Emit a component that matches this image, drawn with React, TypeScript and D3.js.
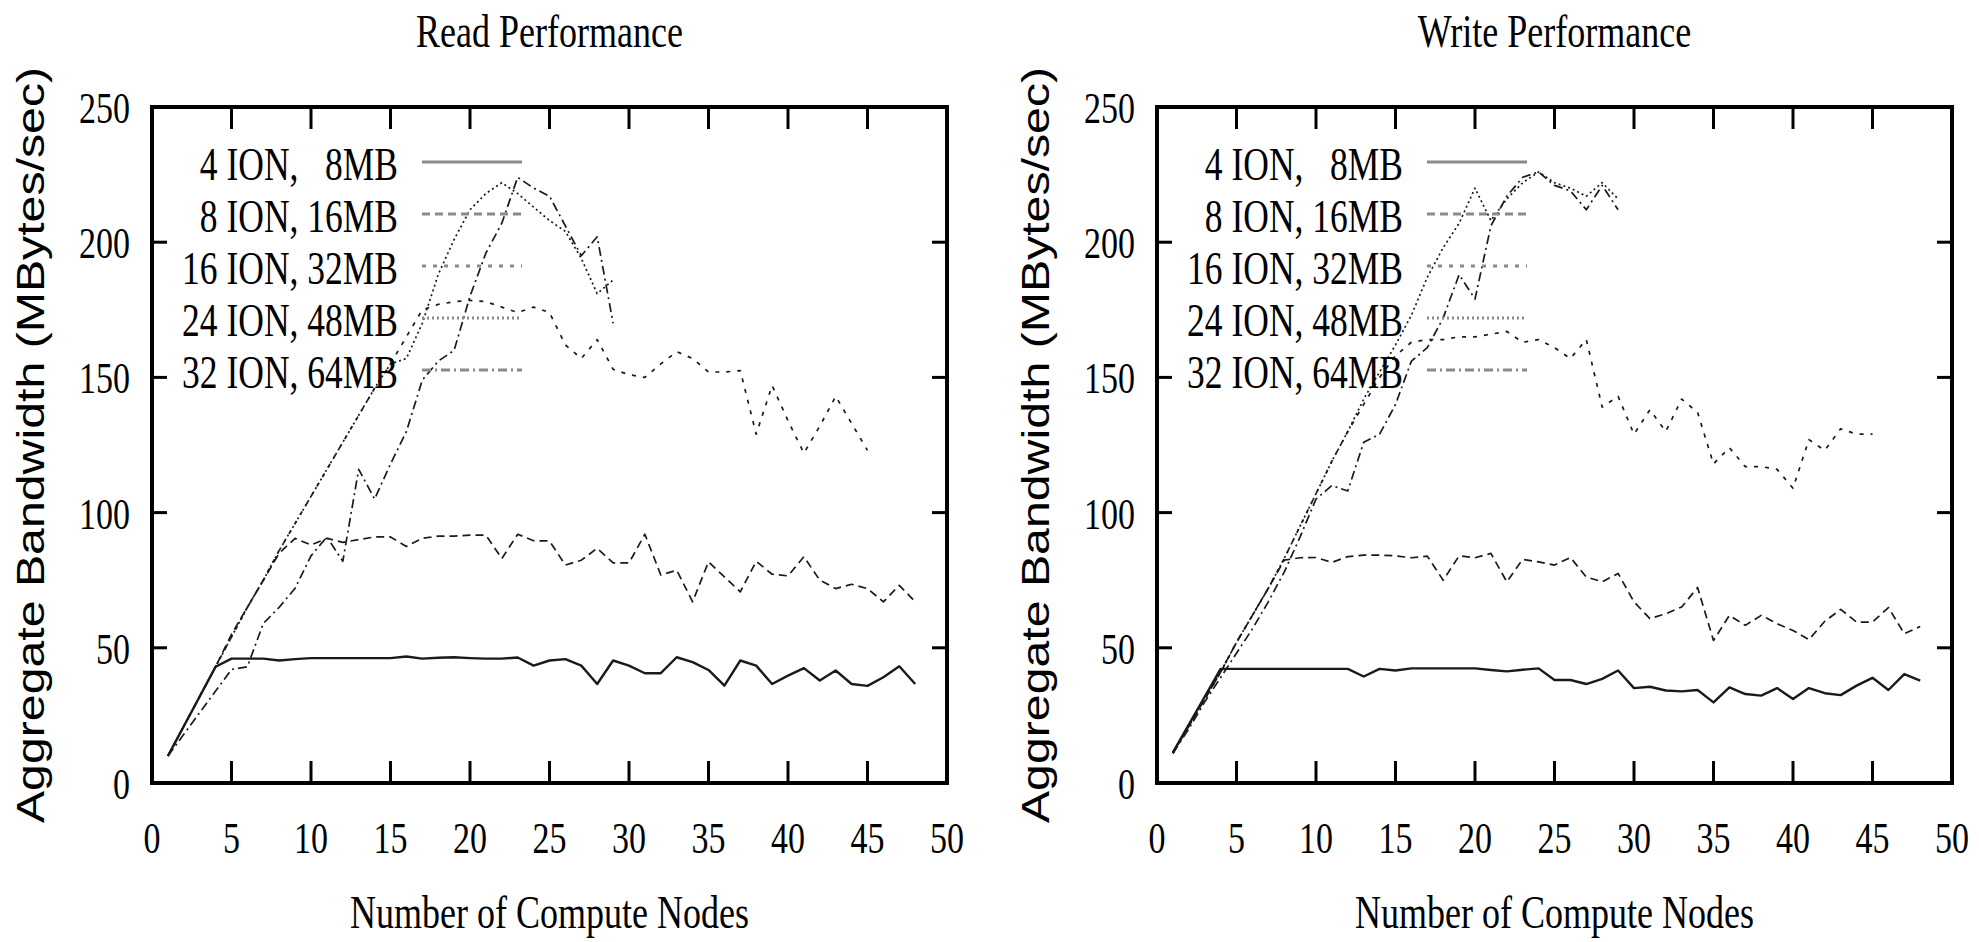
import * as d3 from "d3";

// x values (number of compute nodes)
const nodeCounts = [
  1, 2, 3, 4, 5, 6, 7, 8, 9, 10, 11, 12, 13, 14, 15, 16, 17, 18, 19, 20, 21, 22, 23, 24,
  25, 26, 27, 28, 29, 30, 31, 32, 33, 34, 35, 36, 37, 38, 39, 40, 41, 42, 43, 44, 45, 46, 47, 48,
];

const seriesNames = ["4 ION,   8MB", "8 ION, 16MB", "16 ION, 32MB", "24 ION, 48MB", "32 ION, 64MB"];

// Read performance (MBytes/sec)
const read4 = [10, 21, 32, 43, 46, 46, 46, 45.3, 45.8, 46.2, 46.2, 46.2, 46.2, 46.2, 46.2, 46.8, 46, 46.3, 46.5, 46.2, 46, 46, 46.4, 43.4, 45.3, 45.8, 43.4, 36.6, 45.3, 43.4, 40.6, 40.6, 46.5, 44.7, 41.8, 36, 45.3, 43.4, 36.6, 39.7, 42.5, 37.9, 41.6, 36.6, 35.9, 39.1, 43.2, 36.6];
const read8 = [10, 21, 32, 43, 55, 65, 75, 85, 90.5, 88, 90.5, 89, 90, 91, 91, 87.5, 90.5, 91.3, 91.3, 91.7, 91.7, 83, 92, 89.6, 89.5, 80.6, 82.4, 86.8, 81.4, 81.4, 92, 76.9, 78.7, 67, 81.8, 76.2, 70.7, 82, 77.2, 76.6, 83.7, 75, 71.9, 73.5, 71.9, 67, 73.1, 67];
const read16 = [10, 21, 32, 43, 54, 65, 75, 86, 96, 106, 116, 126, 136, 146, 155, 165, 175, 177, 178, 178.5, 178, 176, 174, 176, 174, 162, 157, 164, 153, 151, 150, 155, 159.5, 157, 152, 152, 152.5, 129, 147, 134, 122, 132, 143, 133, 123];
const read24 = [10, 21, 32, 43, 54, 65, 75, 86, 96, 106, 116, 126, 136, 146, 155, 157, 170, 188, 201, 212, 218, 222, 218, 213, 208, 204, 194, 181, 186];
const read32 = [10, 18, 26, 34, 42, 43, 59, 65, 72, 84, 91, 82, 116, 105, 118, 130, 149, 156, 160, 180, 196, 207, 224, 220, 217, 206, 195, 202, 170];

// Write performance (MBytes/sec)
const write4 = [11.3, 21.6, 31.9, 42.2, 42.2, 42.2, 42.2, 42.2, 42.2, 42.2, 42.2, 42.2, 39.4, 42.2, 41.6, 42.4, 42.4, 42.4, 42.4, 42.4, 41.8, 41.3, 41.9, 42.4, 38.1, 38.1, 36.6, 38.5, 41.6, 35.1, 35.6, 34.2, 33.9, 34.4, 29.8, 35.4, 32.9, 32.3, 35.1, 31.1, 35.1, 33.2, 32.5, 36, 38.9, 34.4, 40.3, 37.9];
const write8 = [11, 21, 31, 41, 52, 62, 72, 82.4, 83.3, 83.4, 81.6, 83.7, 84.3, 84.3, 84, 83.3, 83.9, 75, 84, 83.3, 84.9, 74.4, 82.7, 81.8, 80.6, 83.4, 76.2, 74.4, 77.5, 67, 60.8, 62.6, 65.1, 72.3, 52.7, 62, 58.3, 62, 58.9, 56.4, 53, 59.8, 64.2, 59.5, 59.5, 64.9, 55.2, 57.9];
const write16 = [11, 21, 31, 41, 52, 62, 72, 83, 95, 107, 119, 130, 140, 150, 158, 163, 164, 164, 165, 165, 166, 167, 163, 164, 161, 157, 164, 139, 143, 129, 138, 130, 142, 137, 118, 124, 117, 117, 116, 109, 127, 123, 131, 129, 129];
const write24 = [11, 21, 31, 41, 52, 62, 72, 83, 95, 107, 119, 130, 142, 152, 162, 173, 187, 198, 207, 220, 208, 216, 222, 226, 222, 220, 217, 222, 216];
const write32 = [11, 20, 30, 39, 48, 57, 67, 78, 91, 105, 110, 108, 126, 129, 140, 156, 161, 172, 188, 179, 206, 217, 224, 226, 221, 219, 212, 221, 212];

const xTicks = [0, 5, 10, 15, 20, 25, 30, 35, 40, 45, 50];
const yTicks = [0, 50, 100, 150, 200, 250];

// line styles, one per series
const dashes = ["", "8,5", "4,7", "2,3", "9,4,2,4"];

const TOP = 107;
const BOTTOM = 783;
const PLOT_W = 795;
const STRETCH = 1.3; // text in the source is taller than it is wide
const serif = "'Liberation Serif', 'Times New Roman', serif";

function Panel({ left, title, series }: { left: number; title: string; series: number[][] }) {
  const right = left + PLOT_W;
  const x = d3.scaleLinear().domain([0, 50]).range([left, right]);
  const y = d3.scaleLinear().domain([0, 250]).range([BOTTOM, TOP]);
  const line = d3
    .line<number>()
    .x((_, i) => x(nodeCounts[i]))
    .y((d) => y(d));
  const cx = (left + right) / 2;

  return (
    <g>
      <text
        transform={`translate(${cx},47) scale(1,${STRETCH})`}
        textAnchor="middle"
        fontFamily={serif}
        fontSize={36}
      >
        {title}
      </text>

      {/* data lines */}
      {series.map((s, i) => (
        <path
          key={i}
          d={line(s) as string}
          fill="none"
          stroke="#1a1a1a"
          strokeWidth={i === 0 ? 2.4 : 1.7}
          strokeDasharray={dashes[i] || undefined}
          strokeLinejoin="round"
        />
      ))}

      {/* legend */}
      {seriesNames.map((name, i) => {
        const base = 180 + 52 * i;
        return (
          <g key={name}>
            <text
              transform={`translate(${left + 246},${base}) scale(1,${STRETCH})`}
              textAnchor="end"
              fontFamily={serif}
              fontSize={35.5}
              xmlSpace="preserve"
              style={{ whiteSpace: "pre" }}
            >
              {name}
            </text>
            <line
              x1={left + 270}
              x2={left + 370}
              y1={base - 18}
              y2={base - 18}
              stroke="#8a8a8a"
              strokeWidth={3}
              strokeDasharray={dashes[i] || undefined}
            />
          </g>
        );
      })}

      {/* frame and inward ticks */}
      <rect x={left} y={TOP} width={PLOT_W} height={BOTTOM - TOP} fill="none" stroke="#000" strokeWidth={4} />
      {xTicks.slice(1, -1).map((t) => (
        <g key={"x" + t}>
          <line x1={x(t)} x2={x(t)} y1={BOTTOM} y2={BOTTOM - 22} stroke="#000" strokeWidth={3} />
          <line x1={x(t)} x2={x(t)} y1={TOP} y2={TOP + 22} stroke="#000" strokeWidth={3} />
        </g>
      ))}
      {yTicks.slice(1, -1).map((t) => (
        <g key={"y" + t}>
          <line x1={left} x2={left + 15} y1={y(t)} y2={y(t)} stroke="#000" strokeWidth={3} />
          <line x1={right} x2={right - 15} y1={y(t)} y2={y(t)} stroke="#000" strokeWidth={3} />
        </g>
      ))}

      {/* tick labels */}
      {xTicks.map((t) => (
        <text
          key={"xl" + t}
          transform={`translate(${x(t)},853) scale(1,${STRETCH})`}
          textAnchor="middle"
          fontFamily={serif}
          fontSize={34}
        >
          {t}
        </text>
      ))}
      {yTicks.map((t) => (
        <text
          key={"yl" + t}
          transform={`translate(${left - 22},${y(t) + 16}) scale(1,${STRETCH})`}
          textAnchor="end"
          fontFamily={serif}
          fontSize={34}
        >
          {t}
        </text>
      ))}

      {/* axis titles */}
      <text
        transform={`translate(${cx},928) scale(1,${STRETCH})`}
        textAnchor="middle"
        fontFamily={serif}
        fontSize={36}
      >
        Number of Compute Nodes
      </text>
      <text
        transform={`translate(${left - 108},${(TOP + BOTTOM) / 2}) rotate(-90) scale(1.27,1)`}
        textAnchor="middle"
        fontFamily="'Liberation Sans', Arial, sans-serif"
        fontSize={38}
      >
        Aggregate Bandwidth (MBytes/sec)
      </text>
    </g>
  );
}

export default function App() {
  return (
    <svg
      width={1979}
      height={942}
      style={{ position: "absolute", left: 0, top: 0, background: "#fff" }}
    >
      <rect width={1979} height={942} fill="#fff" />
      <Panel left={152} title="Read Performance" series={[read4, read8, read16, read24, read32]} />
      <Panel left={1157} title="Write Performance" series={[write4, write8, write16, write24, write32]} />
    </svg>
  );
}
